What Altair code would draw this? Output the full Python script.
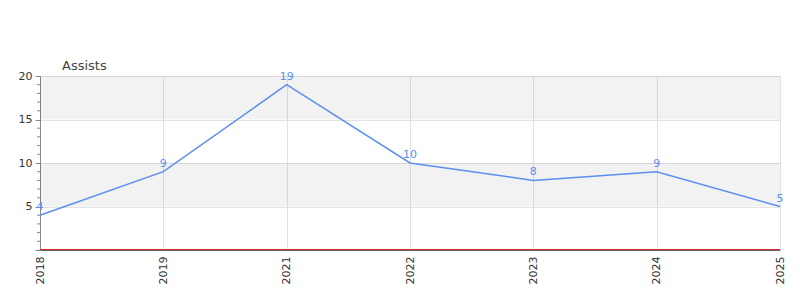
import altair as alt
import pandas as pd

years = ["2018", "2019", "2021", "2022", "2023", "2024", "2025"]
assists = [4, 9, 19, 10, 8, 9, 5]
band_lo = [15, 5]
band_hi = [20, 10]
major_ticks = [0, 5, 10, 15, 20]
minor_ticks = [1, 2, 3, 4, 6, 7, 8, 9, 11, 12, 13, 14, 16, 17, 18, 19]

df = pd.DataFrame({"year": years, "assists": assists})
bands = pd.DataFrame({"lo": band_lo, "hi": band_hi})
minors = pd.DataFrame({"v": minor_ticks})

LINE = "#5b8ff0"

xscale = alt.Scale(type="point", domain=years, padding=0)
yscale = alt.Scale(domain=[0, 20], nice=False)

yaxis = alt.Axis(
    values=major_ticks,
    labelExpr="datum.value > 0 ? datum.label : ''",
    tickSize=5,
    grid=True,
    gridColor="#e2e2e2",
    domainColor="#888888",
    tickColor="#888888",
    labelColor="#333333",
    labelFont="DejaVu Sans",
    labelFontSize=11,
    labelPadding=3,
    title=None,
)

xaxis = alt.Axis(
    labelAngle=-90,
    labelAlign="right",
    labelBaseline="middle",
    labelColor="#333333",
    labelFont="DejaVu Sans",
    labelFontSize=11,
    labelPadding=6,
    grid=True,
    gridColor="#e2e2e2",
    domainColor="#666666",
    domainWidth=1,
    ticks=False,
    title=None,
)

line = alt.Chart(df).mark_line(color=LINE, strokeWidth=1.5).encode(
    x=alt.X("year:N", scale=xscale, axis=xaxis, sort=years),
    y=alt.Y("assists:Q", scale=yscale, axis=yaxis),
)

band_layer = alt.Chart(bands).mark_rect(color="#000000", opacity=0.05).encode(
    y=alt.Y("lo:Q", scale=yscale, axis=yaxis),
    y2="hi:Q",
    x=alt.value(0),
    x2=alt.value(740),
)

text = alt.Chart(df).mark_text(
    color=LINE, dy=-8, fontSize=11, font="DejaVu Sans", baseline="middle"
).encode(
    x=alt.X("year:N", scale=xscale, sort=years, axis=xaxis),
    y=alt.Y("assists:Q", scale=yscale, axis=yaxis),
    text="assists:Q",
)

minor_layer = alt.Chart(minors).mark_rule(color="#888888", strokeWidth=1).encode(
    y=alt.Y("v:Q", scale=yscale, axis=yaxis),
    x=alt.value(-3),
    x2=alt.value(0),
)

zero = alt.Chart(pd.DataFrame({"z": [0]})).mark_rule(
    color="#d62728", strokeWidth=1, yOffset=-0.5
).encode(
    y=alt.Y("z:Q", scale=yscale, axis=yaxis),
    x=alt.value(0),
    x2=alt.value(740),
)

chart = alt.layer(band_layer, line, text, minor_layer, zero).properties(
    width=740,
    height=174,
    title=alt.TitleParams(
        "Assists", anchor="start", frame="group", dx=22, fontSize=13,
        fontWeight="normal", color="#444444", font="DejaVu Sans", offset=-3,
    ),
    autosize=alt.AutoSizeParams(type="none"),
    padding={"left": 40, "top": 76, "right": 20, "bottom": 50},
).configure_view(stroke=None)

chart.save("out.html", embed_options={"renderer": "svg", "actions": False})
